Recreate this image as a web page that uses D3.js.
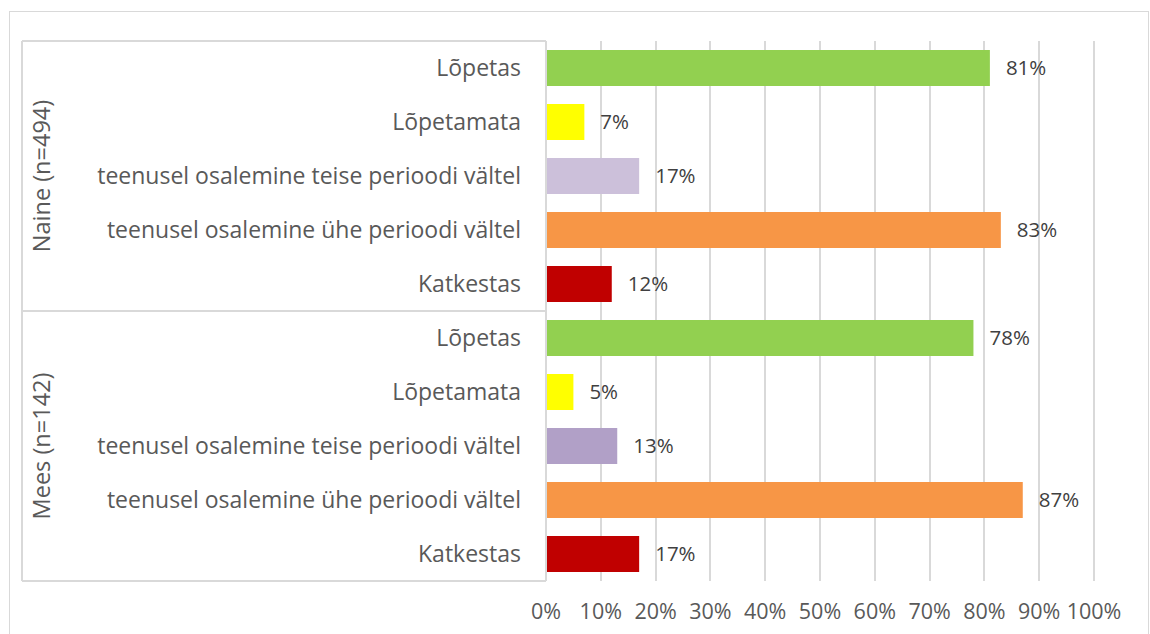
<!DOCTYPE html>
<html>
<head>
<meta charset="utf-8">
<script src="https://cdn.jsdelivr.net/npm/d3@7"></script>
<style>
  body { margin: 0; background: #fff; }
  text { font-family: "Open Sans", sans-serif; }
</style>
</head>
<body>
<svg id="chart" width="1150" height="634"></svg>
<script>
// data
var groups = ["Naine (n=494)", "Mees (n=142)"];
var categories = ["Lõpetas", "Lõpetamata", "teenusel osalemine teise perioodi vältel",
                  "teenusel osalemine ühe perioodi vältel", "Katkestas"];
var naineValues = [0.81, 0.07, 0.17, 0.83, 0.12];
var meesValues = [0.78, 0.05, 0.13, 0.87, 0.17];
var naineColors = ["#92d050", "#ffff00", "#ccc0da", "#f79646", "#c00000"];
var meesColors = ["#92d050", "#ffff00", "#b1a0c7", "#f79646", "#c00000"];
var xTicks = [0, 0.1, 0.2, 0.3, 0.4, 0.5, 0.6, 0.7, 0.8, 0.9, 1.0];

var rows = [];
groups.forEach(function(g, gi) {
    var vals = gi == 0 ? naineValues : meesValues;
    var cols = gi == 0 ? naineColors : meesColors;
    categories.forEach(function(c, ci) {
        rows.push({id: gi + "-" + ci, group: g, cat: c, value: vals[ci], color: cols[ci]});
    });
});

var svg = d3.select("#chart");
var gridColor = "#d9d9d9";

// outer chart border
svg.append("rect")
    .attr("x", 9.5).attr("y", 11.5)
    .attr("width", 1139).attr("height", 640)
    .attr("fill", "none").attr("stroke", gridColor);

var plotTop = 41, plotBottom = 581;
var x = d3.scaleLinear().domain([0, 1]).range([546, 1094]);
var y = d3.scaleBand()
    .domain(rows.map(function(d) { return d.id; }))
    .range([plotTop, plotBottom])
    .paddingInner(1 / 3)
    .paddingOuter(1 / 6);

// vertical gridlines (0% one doubles as the category axis)
svg.append("g").selectAll("line")
    .data(xTicks)
    .join("line")
    .attr("x1", function(d) { return Math.round(x(d)); })
    .attr("x2", function(d) { return Math.round(x(d)); })
    .attr("y1", plotTop).attr("y2", plotBottom)
    .attr("stroke", gridColor).attr("stroke-width", 2);

// x tick labels
svg.append("g").selectAll("text")
    .data(xTicks)
    .join("text")
    .attr("x", function(d) { return x(d); })
    .attr("y", 619)
    .attr("text-anchor", "middle")
    .attr("fill", "#595959")
    .style("font-size", "21.5px")
    .text(d3.format(".0%"));

// category axis: separators and left line
var step = y.step();
var sepY = [plotTop, plotTop + step * 5, plotBottom];
svg.append("g").selectAll("line")
    .data(sepY)
    .join("line")
    .attr("x1", 22).attr("x2", 546)
    .attr("y1", function(d) { return d; }).attr("y2", function(d) { return d; })
    .attr("stroke", gridColor).attr("stroke-width", 2);
svg.append("line")
    .attr("x1", 22).attr("x2", 22)
    .attr("y1", plotTop).attr("y2", plotBottom)
    .attr("stroke", gridColor).attr("stroke-width", 2);

// bars
svg.append("g").selectAll("rect")
    .data(rows)
    .join("rect")
    .attr("x", x(0) + 1)
    .attr("y", function(d) { return y(d.id); })
    .attr("width", function(d) { return x(d.value) - x(0) - 1; })
    .attr("height", y.bandwidth())
    .attr("fill", function(d) { return d.color; });

// value labels
svg.append("g").selectAll("text")
    .data(rows)
    .join("text")
    .attr("x", function(d) { return x(d.value) + 16; })
    .attr("y", function(d) { return y(d.id) + y.bandwidth() / 2; })
    .attr("dy", "0.36em")
    .attr("fill", "#404040")
    .style("font-size", "20.5px")
    .text(function(d) { return Math.round(d.value * 100) + "%"; });

// category labels
svg.append("g").selectAll("text")
    .data(rows)
    .join("text")
    .attr("x", 521)
    .attr("y", function(d) { return y(d.id) + y.bandwidth() / 2; })
    .attr("dy", "0.33em")
    .attr("text-anchor", "end")
    .attr("fill", "#595959")
    .style("font-size", "23px")
    .text(function(d) { return d.cat; });

// group labels, rotated
svg.append("g").selectAll("text")
    .data(groups)
    .join("text")
    .attr("transform", function(d, i) {
        var cy = plotTop + step * 5 * i + step * 2.5;
        return "translate(42," + cy + ") rotate(-90)";
    })
    .attr("dy", "0.36em")
    .attr("text-anchor", "middle")
    .attr("fill", "#595959")
    .style("font-size", "23.5px")
    .text(function(d) { return d; });
</script>
</body>
</html>
